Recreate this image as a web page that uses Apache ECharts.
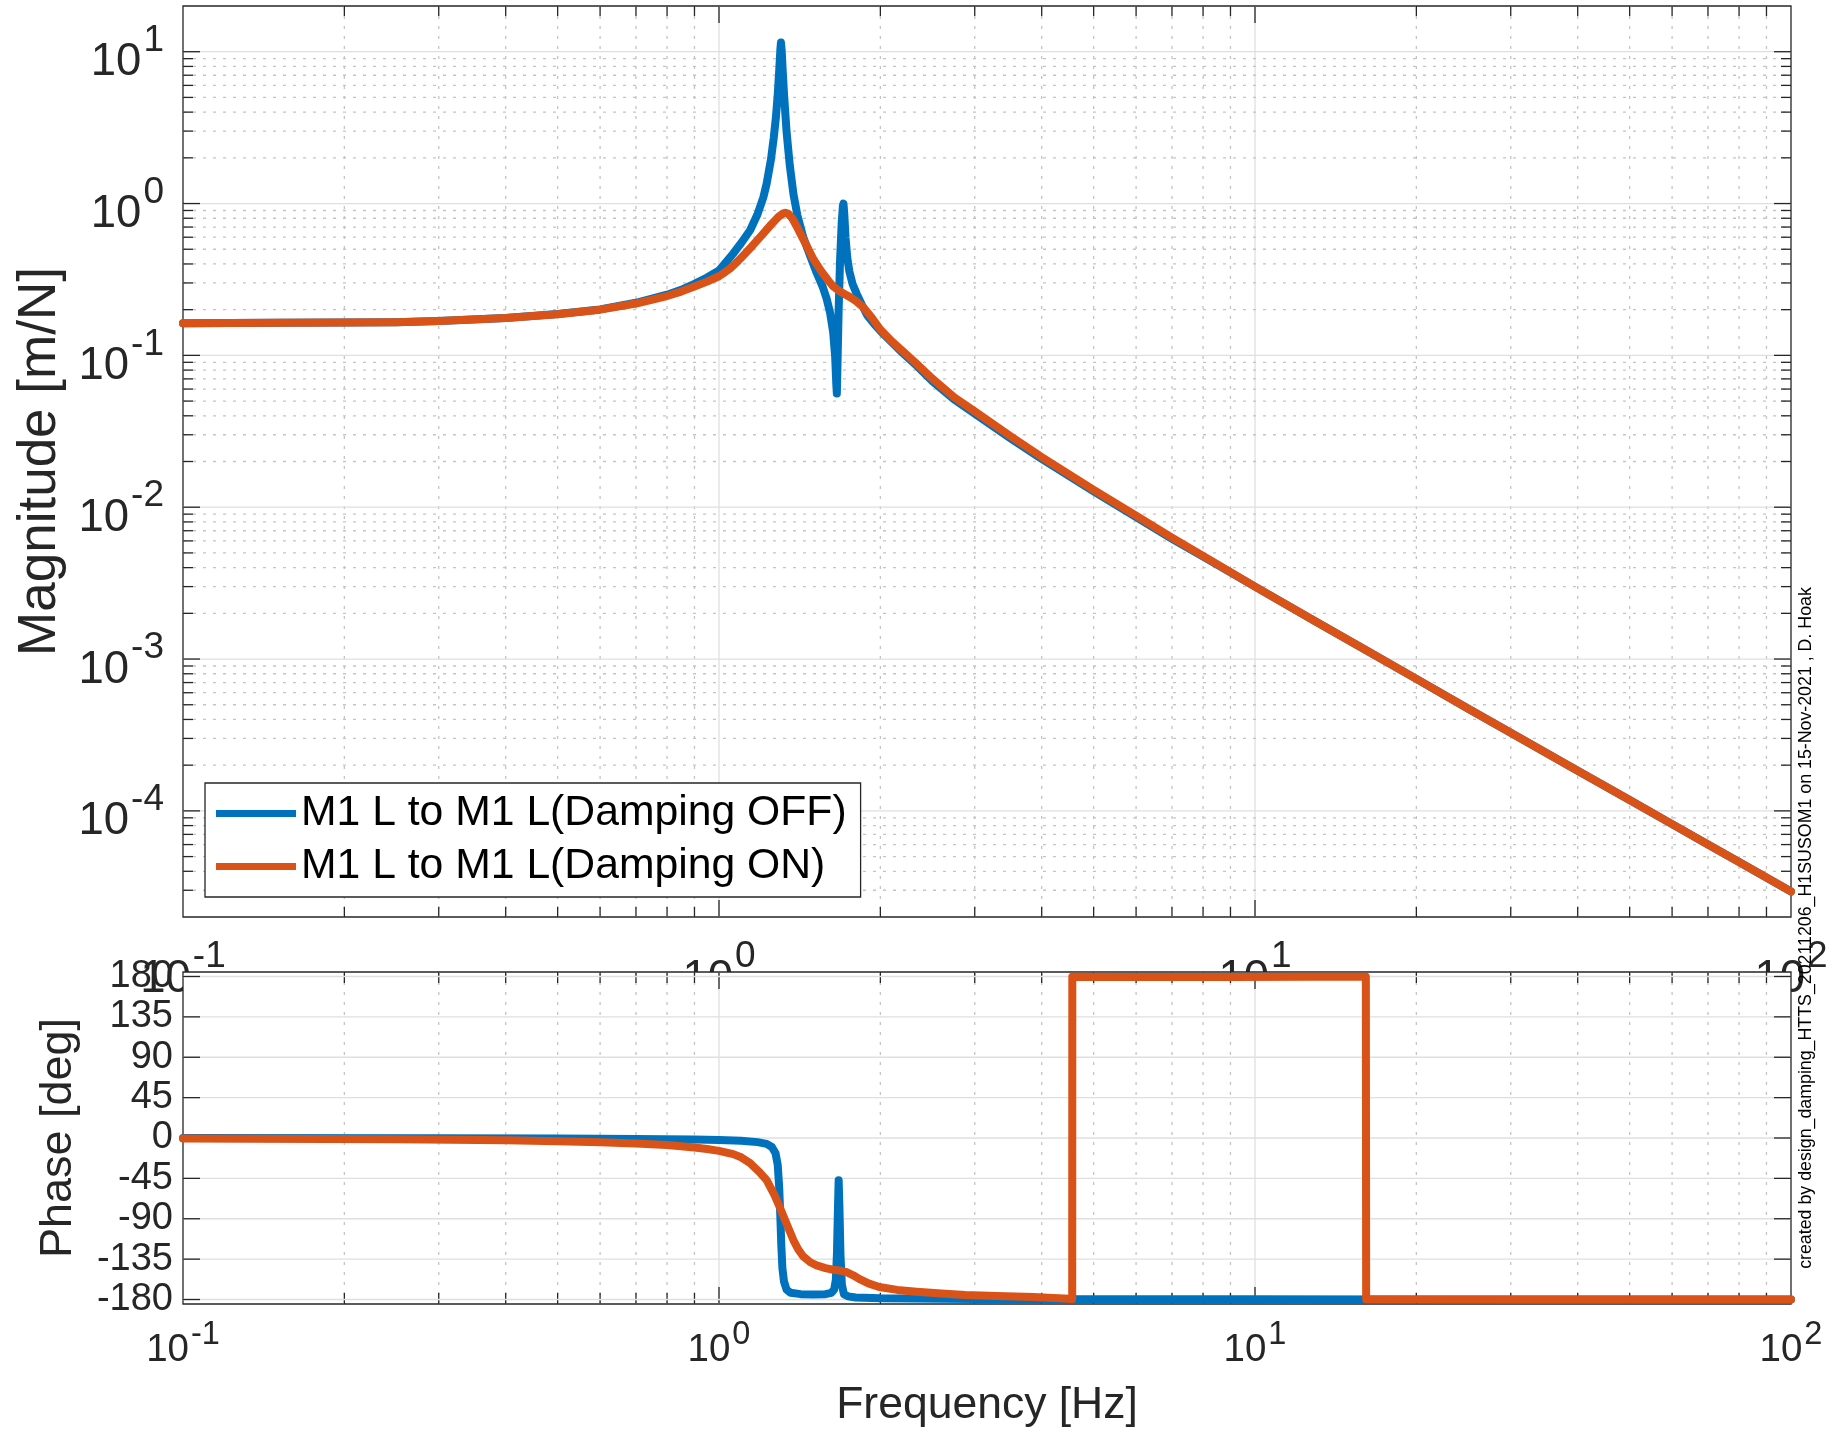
<!DOCTYPE html>
<html>
<head>
<meta charset="utf-8">
<script src="https://cdn.jsdelivr.net/npm/echarts@6/dist/echarts.min.js"></script>
<style>
html,body{margin:0;padding:0;background:#fff;}
#chart{width:1839px;height:1434px;}
</style>
</head>
<body>
<div id="chart"></div>
<script>
// ---------------- data ----------------
const SERIES_NAMES = ['M1 L to M1 L(Damping OFF)', 'M1 L to M1 L(Damping ON)'];
const CREDIT = 'created by design_damping_HTTS_20211206_H1SUSOM1 on 15-Nov-2021 , D. Hoak';

// [frequency Hz, magnitude m/N]
const MAG_OFF = [
  [0.1,0.163],[0.15,0.1637],[0.2,0.1645],[0.25,0.1655],[0.3,0.1685],[0.4,0.1765],[0.5,0.187],
  [0.6,0.2008],[0.7,0.222],[0.8,0.251],[0.85,0.27],[0.9,0.296],[0.95,0.326],[1.0,0.362],
  [1.03,0.41],[1.063,0.469],[1.1,0.55],
  [1.143,0.667],[1.18,0.85],[1.21,1.1],[1.227,1.35],[1.25,1.95],[1.265,2.7],[1.277,3.7],
  [1.287,5.2],[1.296,7.8],[1.302,10.5],[1.305,11.5],[1.309,10.2],[1.315,7.4],[1.322,5.3],
  [1.337,2.95],[1.355,1.8],[1.377,1.15],[1.40,0.84],[1.436,0.6],[1.48,0.45],[1.521,0.35],
  [1.56,0.285],[1.588,0.236],[1.612,0.19],[1.633,0.142],[1.647,0.098],[1.655,0.065],
  [1.659,0.056],[1.664,0.09],[1.672,0.2],[1.682,0.42],[1.694,0.75],[1.703,0.97],[1.707,1.0],
  [1.713,0.85],[1.722,0.6],[1.735,0.44],[1.75,0.36],[1.775,0.295],[1.806,0.255],[1.85,0.213],
  [1.89,0.184],[1.95,0.16],[2.0,0.145],[2.1,0.122],[2.2,0.104],[2.35,0.084],[2.5,0.0677],
  [2.75,0.051],[3.0,0.0413],[3.5,0.0284],[4.0,0.0208],[5.0,0.0127],[6.0,0.0086],[7.0,0.0062],
  [8.0,0.00473],[10,0.003],[13,0.00176],[16,0.00116],[20,0.00074],[25,0.00047],[30,0.000327],
  [40,0.000184],[50,0.000118],[60,0.0000818],[70,0.00006],[80,0.000046],[100,0.0000294]
];
const MAG_ON = [
  [0.1,0.163],[0.15,0.1637],[0.2,0.1645],[0.25,0.1655],[0.3,0.1683],[0.4,0.1762],[0.5,0.1866],
  [0.6,0.2],[0.7,0.2194],[0.8,0.246],[0.85,0.263],[0.9,0.284],[0.95,0.306],[1.0,0.332],
  [1.025,0.352],[1.05,0.375],[1.075,0.405],[1.1,0.44],
  [1.15,0.52],[1.2,0.615],[1.25,0.725],[1.29,0.815],[1.315,0.858],[1.33,0.87],[1.345,0.86],
  [1.37,0.8],[1.40,0.695],[1.416,0.64],[1.46,0.52],[1.5,0.43],[1.55,0.36],[1.6,0.31],
  [1.633,0.285],[1.68,0.264],[1.72,0.252],[1.76,0.241],[1.8,0.228],[1.86,0.207],[1.93,0.176],
  [2.0,0.148],[2.1,0.124],[2.2,0.107],[2.35,0.0865],[2.5,0.0703],[2.75,0.0528],[3.0,0.0428],
  [3.5,0.0293],[4.0,0.0214],[5.0,0.013],[6.0,0.0088],[7.0,0.0063],[8.0,0.00478],[10,0.003],
  [13,0.00176],[16,0.00116],[20,0.00074],[25,0.00047],[30,0.000327],[40,0.000184],
  [50,0.000118],[60,0.0000818],[70,0.00006],[80,0.000046],[100,0.0000294]
];
// [frequency Hz, phase deg]
const PHASE_OFF = [
  [0.1,-0.1],[0.3,-0.3],[0.5,-0.6],[0.7,-1.0],[0.9,-1.6],[1.0,-2.1],[1.1,-3.0],[1.18,-4.6],
  [1.227,-6.5],[1.255,-10],[1.275,-17],[1.287,-30],[1.295,-55],[1.301,-85],[1.307,-120],
  [1.313,-145],[1.322,-160],[1.337,-169],[1.36,-172.5],[1.42,-174],[1.5,-174.5],[1.58,-174],
  [1.62,-172.5],[1.64,-169],[1.652,-158],[1.66,-128],[1.666,-85],[1.672,-47],[1.678,-80],
  [1.685,-130],[1.695,-163],[1.71,-174],[1.74,-176.5],[1.8,-177.8],[2.0,-178.6],[3.0,-179.3],
  [5,-179.6],[10,-179.8],[20,-179.9],[100,-180]
];
const PHASE_ON = [
  [0.1,-0.6],[0.25,-1.5],[0.4,-2.6],[0.5,-3.5],[0.6,-4.6],[0.7,-6.0],[0.8,-7.9],[0.9,-10.5],
  [0.95,-12.3],[1.0,-14.3],[1.063,-18],[1.1,-21.5],[1.143,-28],[1.19,-38],[1.227,-47],
  [1.27,-64],[1.3,-78],[1.329,-92],[1.355,-104],[1.377,-114],[1.405,-124],[1.436,-132],
  [1.48,-138.5],[1.521,-142],[1.58,-145],[1.633,-146.8],[1.69,-148],[1.73,-149.5],
  [1.78,-153],[1.826,-157],[1.9,-162],[1.99,-166],[2.15,-169.3],[2.337,-171.3],[2.6,-173.4],
  [2.88,-175],[3.3,-176.2],[3.86,-177.3],[4.2,-178.2],[4.5,-179.2],[4.56,-179.6],
  [4.562,179.6],[6,179.4],[9,179.4],[13,179.6],[16.1,179.8],[16.12,-179.8],[30,-179.9],
  [100,-179.95]
];

// axis ticks
const FREQ_DECADES = [0.1, 1, 10, 100];
const MAG_DECADES = [1e-4, 1e-3, 1e-2, 1e-1, 1, 10];
const PHASE_TICKS = [-180, -135, -90, -45, 0, 45, 90, 135, 180];
const MINOR_STEPS = [2, 3, 4, 5, 6, 7, 8, 9];

// ---------------- styling ----------------
const FONT = '"Liberation Sans", Arial, Helvetica, sans-serif';
const BLUE = '#0072BD', ORANGE = '#D95319';
const AXIS_COLOR = '#262626';
const MAJOR_GRID = '#dfdfdf';
const MINOR_GRID = '#c4c4c4';

// minor tick positions (2..9 x each decade) inside the axis ranges
function minors(decades, lo, hi) {
  const out = [];
  decades.forEach(d => MINOR_STEPS.forEach(k => {
    const v = +(d * k).toPrecision(6);
    if (v > lo * 1.0001 && v < hi * 0.9999) out.push(v);
  }));
  return out;
}
const FREQ_MINOR = minors([0.1, 1, 10], 0.1, 100);
const MAG_MINOR = minors([1e-5, 1e-4, 1e-3, 1e-2, 1e-1, 1], 2e-5, 20);

function decorMeta(xMajor, xMinor, yMajor, yMinor, xRef, yRef) {
  const m = [];
  xMajor.forEach(v => m.push({d: 'x', major: true, value: [v, yRef]}));
  xMinor.forEach(v => m.push({d: 'x', major: false, value: [v, yRef]}));
  yMajor.forEach(v => m.push({d: 'y', major: true, value: [xRef, v]}));
  yMinor.forEach(v => m.push({d: 'y', major: false, value: [xRef, v]}));
  return m;
}
function decorSeries(meta, xi, yi, z, majorLen, minorLen) {
  return {
    type: 'custom', xAxisIndex: xi, yAxisIndex: yi, z: z, silent: true, animation: false,
    data: meta.map(m => ({value: m.value})),
    renderItem: function (params, api) {
      const m = meta[params.dataIndex];
      const cs = params.coordSys;
      const L = cs.x, T = cs.y, R = cs.x + cs.width, B = cs.y + cs.height;
      const p = api.coord(m.value);
      const gs = m.major ? {stroke: MAJOR_GRID, lineWidth: 1.3}
                         : {stroke: MINOR_GRID, lineWidth: 1.3, lineDash: [3, 7]};
      const ts = {stroke: AXIS_COLOR, lineWidth: 1.3};
      const len = m.major ? majorLen : minorLen;
      const ch = [];
      if (m.d === 'x') {
        const x = p[0];
        ch.push({type: 'line', shape: {x1: x, y1: T, x2: x, y2: B}, style: gs});
        ch.push({type: 'line', shape: {x1: x, y1: B, x2: x, y2: B - len}, style: ts});
        ch.push({type: 'line', shape: {x1: x, y1: T, x2: x, y2: T + len}, style: ts});
      } else {
        const y = p[1];
        ch.push({type: 'line', shape: {x1: L, y1: y, x2: R, y2: y}, style: gs});
        ch.push({type: 'line', shape: {x1: L, y1: y, x2: L + len, y2: y}, style: ts});
        ch.push({type: 'line', shape: {x1: R, y1: y, x2: R - len, y2: y}, style: ts});
      }
      return {type: 'group', children: ch};
    }
  };
}

function supLabel(v) {
  const e = Math.log10(v), r = Math.round(e);
  if (Math.abs(e - r) > 1e-6) return '';
  return '{b|10}{s|' + r + '}';
}
const RICH_MAG = {
  b: {fontSize: 45.5, fontFamily: FONT, color: AXIS_COLOR, padding: [22, 0, 0, 0]},
  s: {fontSize: 37, fontFamily: FONT, color: AXIS_COLOR, padding: [0, 0, 22, 2]}
};
const RICH_PH = {
  b: {fontSize: 38.5, fontFamily: FONT, color: AXIS_COLOR, padding: [15, 0, 0, 0]},
  s: {fontSize: 32.5, fontFamily: FONT, color: AXIS_COLOR, padding: [0, 0, 15, 2]}
};

function lineSeries(name, data, color, xi, yi, z) {
  return {
    type: 'line', name: name, data: data, xAxisIndex: xi, yAxisIndex: yi, z: z,
    showSymbol: false, symbol: 'none', silent: true, animation: false, clip: true,
    color: color, itemStyle: {color: color},
    lineStyle: {color: color, width: 8, cap: 'round', join: 'round'}
  };
}

const magMeta = decorMeta([1, 10], FREQ_MINOR, MAG_DECADES, MAG_MINOR, 1, 1);
const phMeta = decorMeta([1, 10], FREQ_MINOR, PHASE_TICKS, [], 1, 0);

const chart = echarts.init(document.getElementById('chart'), null, {renderer: 'canvas'});
chart.setOption({
  animation: false,
  backgroundColor: '#fff',
  textStyle: {fontFamily: FONT},
  grid: [
    {left: 183, top: 6, width: 1608, height: 911, show: true, backgroundColor: 'rgba(0,0,0,0)',
     borderColor: AXIS_COLOR, borderWidth: 1.3, z: 0, containLabel: false, outerBoundsMode: 'none'},
    {left: 183, top: 972, width: 1608, height: 332, show: true, backgroundColor: '#fff',
     borderColor: AXIS_COLOR, borderWidth: 1.3, z: 5, containLabel: false, outerBoundsMode: 'none'}
  ],
  xAxis: [
    {type: 'log', logBase: 10, gridIndex: 0, min: FREQ_DECADES[0], max: FREQ_DECADES[3], z: 0,
     axisLine: {show: false}, axisTick: {show: false}, splitLine: {show: false},
     axisLabel: {margin: 17, formatter: supLabel, rich: RICH_MAG, showMinLabel: true, showMaxLabel: true}},
    {type: 'log', logBase: 10, gridIndex: 1, min: FREQ_DECADES[0], max: FREQ_DECADES[3], z: 8,
     axisLine: {show: false}, axisTick: {show: false}, splitLine: {show: false},
     axisLabel: {margin: 12, formatter: supLabel, rich: RICH_PH, showMinLabel: true, showMaxLabel: true},
     name: 'Frequency [Hz]', nameLocation: 'middle', nameGap: 79, nameMoveOverlap: false,
     nameTextStyle: {fontSize: 44.5, color: AXIS_COLOR, fontFamily: FONT}}
  ],
  yAxis: [
    {type: 'log', logBase: 10, gridIndex: 0, min: 2e-5, max: 20, z: 0,
     axisLine: {show: false}, axisTick: {show: false}, splitLine: {show: false},
     axisLabel: {margin: 19, formatter: supLabel, rich: RICH_MAG},
     name: 'Magnitude [m/N]', nameLocation: 'middle', nameRotate: 90, nameGap: 116, nameMoveOverlap: false,
     nameTextStyle: {fontSize: 53, color: AXIS_COLOR, fontFamily: FONT}},
    {type: 'value', gridIndex: 1, min: -185, max: 185, interval: 5, z: 8,
     axisLine: {show: false}, axisTick: {show: false}, splitLine: {show: false},
     axisLabel: {margin: 10, interval: 0, fontSize: 38, color: AXIS_COLOR, fontFamily: FONT,
       formatter: function (v) { return PHASE_TICKS.indexOf(Math.round(v)) >= 0 ? String(Math.round(v)) : ''; }},
     name: 'Phase [deg]', nameLocation: 'middle', nameRotate: 90, nameGap: 102, nameMoveOverlap: false,
     nameTextStyle: {fontSize: 45, color: AXIS_COLOR, fontFamily: FONT}}
  ],
  legend: {
    data: SERIES_NAMES, orient: 'vertical', left: 205, top: 783, icon: 'rect',
    itemWidth: 80, itemHeight: 7, itemGap: 10, padding: [9, 14, 9, 11],
    backgroundColor: '#fff', borderColor: AXIS_COLOR, borderWidth: 1.3, borderRadius: 0,
    textStyle: {fontSize: 42.7, color: '#000', fontFamily: FONT}, selectedMode: false, z: 20
  },
  graphic: [
    {type: 'text', x: 1806, y: 928, rotation: Math.PI / 2, z: 30, silent: true,
     style: {text: CREDIT, fontSize: 17.8, fontFamily: FONT, fill: '#000', align: 'center', verticalAlign: 'middle'}}
  ],
  series: [
    decorSeries(magMeta, 0, 0, 1, 17, 10),
    lineSeries(SERIES_NAMES[0], MAG_OFF, BLUE, 0, 0, 2),
    lineSeries(SERIES_NAMES[1], MAG_ON, ORANGE, 0, 0, 3),
    decorSeries(phMeta, 1, 1, 6, 17, 11),
    lineSeries(SERIES_NAMES[0], PHASE_OFF, BLUE, 1, 1, 7),
    lineSeries(SERIES_NAMES[1], PHASE_ON, ORANGE, 1, 1, 7.5)
  ]
});
</script>
</body>
</html>
